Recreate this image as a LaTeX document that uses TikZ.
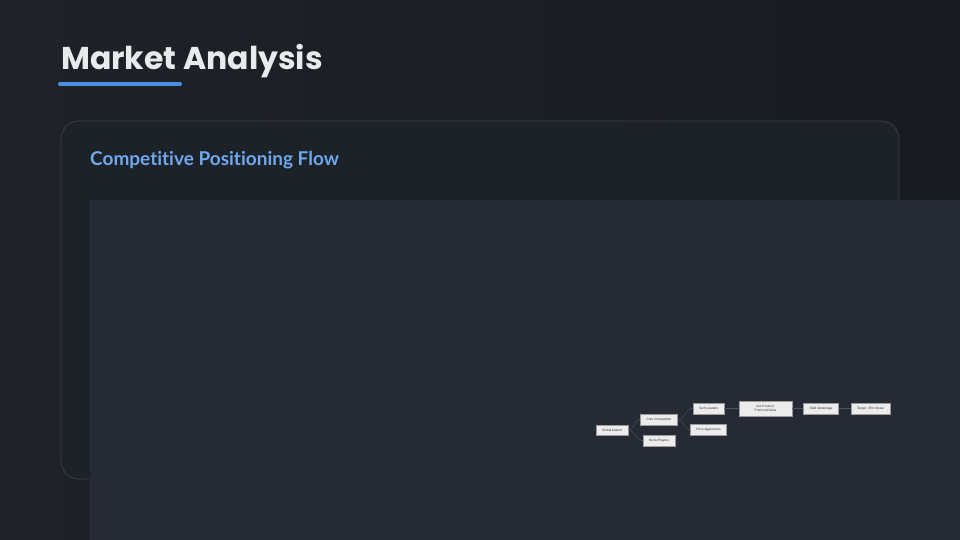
\documentclass[tikz,border=0pt]{standalone}
\usepackage{fontspec}
\setmainfont{Liberation Sans}
\newfontfamily\headfont{Poppins}
\newfontfamily\subfont[Ligatures=NoCommon]{Lato}
\usetikzlibrary{arrows.meta}

\definecolor{bgleft}{HTML}{1F2329}
\definecolor{bgright}{HTML}{171A1F}
\definecolor{titlecol}{HTML}{E8EAED}
\definecolor{accent}{HTML}{4A90E2}
\definecolor{cardfill}{HTML}{1D2128}
\definecolor{cardline}{HTML}{3A3F49}
\definecolor{subcol}{HTML}{6EA8EE}
\definecolor{panel}{HTML}{252A34}
\definecolor{boxfill}{HTML}{ECECEC}
\definecolor{boxline}{HTML}{9A9A9A}
\definecolor{boxtext}{HTML}{333333}
\definecolor{edgecol}{HTML}{4C5360}

\begin{document}
\begin{tikzpicture}[x=1pt,y=-1pt,
    box/.style={draw=boxline,fill=boxfill,line width=0.5pt,text=boxtext,
      font=\fontsize{3.2}{3.9}\selectfont,inner xsep=6pt,inner ysep=0pt,
      minimum height=10.5pt,align=center},
    flow/.style={draw=edgecol,line width=0.4pt,-{Stealth[length=1.6pt,width=1.4pt]}}]
    \useasboundingbox (0,0) rectangle (960,540);
    \shade[left color=bgleft,right color=bgright] (0,0) rectangle (960,540);

    % heading
    \node[anchor=base west,inner sep=0,text=titlecol,
      font=\headfont\bfseries\fontsize{31.5}{38}\selectfont] (title) at (61,70) {Market Analysis};
    \draw[accent,line width=4pt,line cap=round] (60,84) -- (180,84);

    % card
    \draw[cardline,fill=cardfill,line width=0.8pt,rounded corners=18pt] (61,121) rectangle (899,479);
    \node[anchor=base west,inner sep=0,text=subcol,
      font=\subfont\bfseries\fontsize{19}{23}\selectfont] (subtitle) at (90,166) {Competitive Positioning Flow};
    \fill[panel] (90,200) rectangle (960,540);

    % flow
    \node[box] (global) at (612,430) {Global Market};
    \node[box] (core) at (659,419.5) {Core Competition};
    \node[box] (niche) at (659,440.5) {Niche Players};
    \node[box] (tech) at (708.5,408.5) {Tech Leaders};
    \node[box] (price) at (708.5,429.5) {Price Aggressors};
    \node[box,minimum height=15pt,minimum width=53pt] (ours) at (765.5,408.5) {Our Position:\\Premium/Value};
    \node[box] (rnd) at (821,408.5) {R\&D Advantage};
    \node[box] (target) at (870.5,408.5) {Target: 25\% Share};

    \draw[flow] (global.east) to[out=0,in=180] (core.west);
    \draw[flow] (global.east) to[out=0,in=180] (niche.west);
    \draw[flow] (core.east) to[out=0,in=180] (tech.west);
    \draw[flow] (core.east) to[out=0,in=180] (price.west);
    \draw[flow] (tech) -- (ours);
    \draw[flow] (ours) -- (rnd);
    \draw[flow] (rnd) -- (target);
\end{tikzpicture}
\end{document}
